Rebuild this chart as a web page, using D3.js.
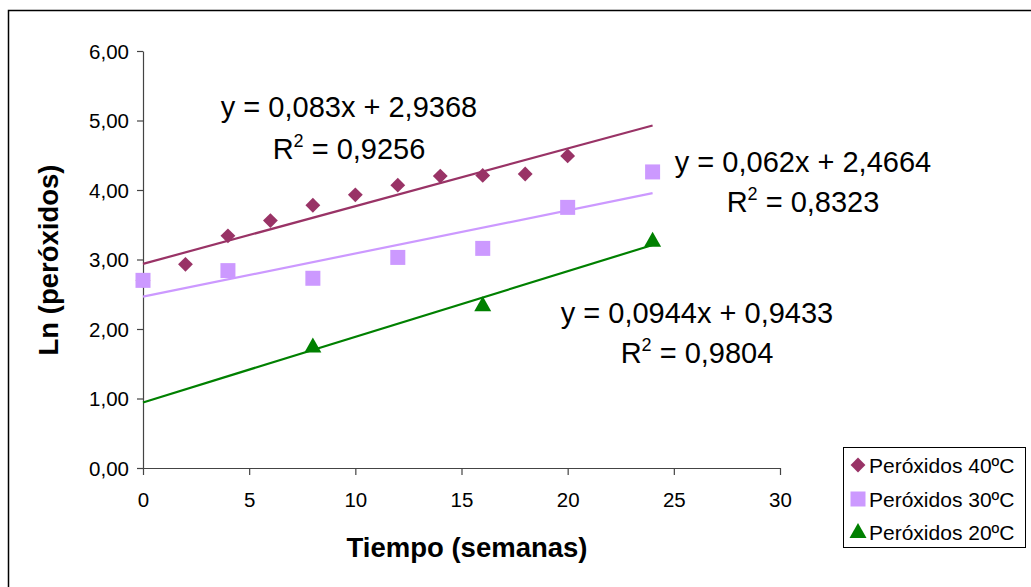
<!DOCTYPE html>
<html>
<head>
<meta charset="utf-8">
<script src="https://cdn.jsdelivr.net/npm/d3@7"></script>
<style>
html,body{margin:0;padding:0;background:#fff;}
svg{display:block;font-family:"Liberation Sans",Arial,sans-serif;}
</style>
</head>
<body>
<svg id="chart" width="1031" height="587"></svg>
<script>
// ---- data ----
const x40 = [0, 2, 4, 6, 8, 10, 12, 14, 16, 18, 20];
const y40 = [2.70, 2.93, 3.34, 3.56, 3.78, 3.93, 4.07, 4.20, 4.21, 4.23, 4.49];
const x30 = [0, 4, 8, 12, 16, 20, 24];
const y30 = [2.70, 2.84, 2.73, 3.03, 3.16, 3.75, 4.26];
const x20 = [8, 16, 24];
const y20 = [1.75, 2.34, 3.27];
const seriesNames = ["Peróxidos 40ºC", "Peróxidos 30ºC", "Peróxidos 20ºC"];
const slopes = [0.083, 0.062, 0.0944];
const intercepts = [2.9368, 2.4664, 0.9433];
const eqLabels = ["y = 0,083x + 2,9368", "y = 0,062x + 2,4664", "y = 0,0944x + 0,9433"];
const r2Labels = ["0,9256", "0,8323", "0,9804"];
const xTicks = [0, 5, 10, 15, 20, 25, 30];
const yTicks = [0, 1, 2, 3, 4, 5, 6];
const trendRange = [0, 24];
const xTitle = "Tiempo (semanas)";
const yTitle = "Ln (peróxidos)";

// ---- styles ----
const colors = ["#993366", "#CC99FF", "#008000"];
const svg = d3.select("#chart");

// outer chart border (extends past the right / bottom edges)
svg.append("rect").attr("x", 8.5).attr("y", 10.5).attr("width", 1100).attr("height", 700)
  .attr("fill", "#fff").attr("stroke", "#000").attr("stroke-width", 1.5);

const x = d3.scaleLinear().domain([0, 30]).range([143, 780]);
const y = d3.scaleLinear().domain([0, 6]).range([468, 51]);

// axes
const yAxis = svg.append("g").attr("transform", `translate(${x(0)},0)`)
  .call(d3.axisLeft(y).tickValues(yTicks).tickSize(6).tickSizeOuter(0)
    .tickFormat(d => d3.format(".2f")(d).replace(".", ",")));
const xAxis = svg.append("g").attr("transform", `translate(0,${y(0)})`)
  .call(d3.axisBottom(x).tickValues(xTicks).tickSize(7).tickSizeOuter(0));
[yAxis, xAxis].forEach(g => {
  g.select(".domain").attr("stroke", "#444").attr("stroke-width", 1.2);
  g.selectAll(".tick line").attr("stroke", "#444").attr("stroke-width", 1.2);
  g.selectAll("text").attr("font-family", "Liberation Sans, Arial, sans-serif")
    .attr("font-size", 20.5).attr("fill", "#000");
});
yAxis.selectAll("text").attr("x", -14).attr("dy", "0.36em");
xAxis.selectAll("text").attr("y", 24).attr("dy", "0.72em");

// axis titles
svg.append("text").attr("x", 467).attr("y", 557).attr("text-anchor", "middle")
  .attr("font-size", 27.5).attr("font-weight", "bold").text(xTitle);
svg.append("text").attr("transform", "translate(58,260) rotate(-90)").attr("text-anchor", "middle")
  .attr("font-size", 27.5).attr("font-weight", "bold").text(yTitle);

// trendlines
slopes.forEach((m, i) => {
  svg.append("line")
    .attr("x1", x(trendRange[0])).attr("y1", y(intercepts[i] + m * trendRange[0]))
    .attr("x2", x(trendRange[1])).attr("y2", y(intercepts[i] + m * trendRange[1]))
    .attr("stroke", colors[i]).attr("stroke-width", 2.2);
});

// markers
const symDiamond = d3.symbol().type(d3.symbolSquare).size(110);
function diamond(g, cx, cy) {
  g.append("path").attr("d", symDiamond())
    .attr("transform", `translate(${cx},${cy}) rotate(45)`).attr("fill", colors[0]);
}
function square(g, cx, cy) {
  g.append("rect").attr("x", cx - 7.5).attr("y", cy - 7.5).attr("width", 15).attr("height", 15)
    .attr("fill", colors[1]);
}
function triangle(g, cx, cy) {
  g.append("path").attr("d", `M${cx},${cy - 9} L${cx + 8.5},${cy + 6} L${cx - 8.5},${cy + 6} Z`)
    .attr("fill", colors[2]);
}
const gm = svg.append("g");
x40.forEach((v, i) => diamond(gm, x(v), y(y40[i])));
x30.forEach((v, i) => square(gm, x(v), y(y30[i])));
x20.forEach((v, i) => triangle(gm, x(v), y(y20[i])));

// equation labels
const eqPos = [[349, 117, 159], [803, 172, 212], [697, 323, 363]];
eqLabels.forEach((t, i) => {
  const [cx, b1, b2] = eqPos[i];
  svg.append("text").attr("x", cx).attr("y", b1).attr("text-anchor", "middle")
    .attr("font-size", 29).text(t);
  const r = svg.append("text").attr("x", cx).attr("y", b2).attr("text-anchor", "middle")
    .attr("font-size", 29);
  r.append("tspan").text("R");
  r.append("tspan").attr("font-size", 18).attr("dy", -12).text("2");
  r.append("tspan").attr("dy", 12).text(" = " + r2Labels[i]);
});

// legend
const lg = svg.append("g");
lg.append("rect").attr("x", 843.5).attr("y", 447.5).attr("width", 182).attr("height", 100)
  .attr("fill", "#fff").attr("stroke", "#000").attr("stroke-width", 1);
const rowY = [465, 499, 532];
diamond(lg, 858, rowY[0]);
square(lg, 858, rowY[1]);
triangle(lg, 858, rowY[2]);
seriesNames.forEach((n, i) => {
  lg.append("text").attr("x", 869).attr("y", rowY[i] + 7.5).attr("font-size", 21).text(n);
});
</script>
</body>
</html>
